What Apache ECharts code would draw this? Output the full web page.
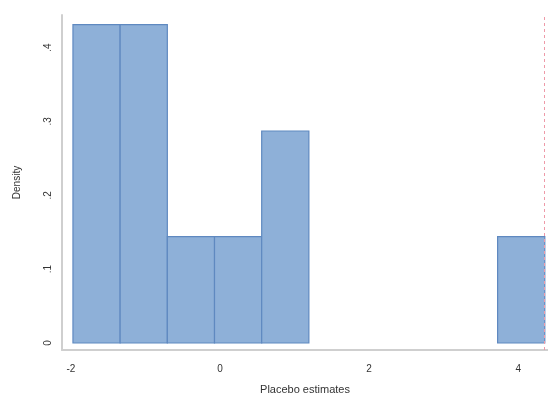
<!DOCTYPE html>
<html>
<head>
<meta charset="utf-8">
<script src="https://cdn.jsdelivr.net/npm/echarts@6/dist/echarts.min.js"></script>
<style>
  html, body { margin: 0; padding: 0; background: #fff; }
  #chart { width: 548px; height: 403px; }
</style>
</head>
<body>
<div id="chart"></div>
<script>
// histogram bins (left edge, right edge) and densities
const binLeft  = [-1.973, -1.340, -0.707, -0.074, 0.559, 1.192, 1.825, 2.458, 3.091, 3.724];
const binRight = [-1.340, -0.707, -0.074, 0.559, 1.192, 1.825, 2.458, 3.091, 3.724, 4.357];
const density  = [0.431, 0.431, 0.144, 0.144, 0.287, 0, 0, 0, 0, 0.144];
const xTicks = [-2, 0, 2, 4];
const yTicks = [0, 0.1, 0.2, 0.3, 0.4];
const trueEstimate = 4.35;

const chart = echarts.init(document.getElementById('chart'));

const bars = binLeft.map((l, i) => [l, binRight[i], density[i]]);

chart.setOption({
  animation: false,
  backgroundColor: '#ffffff',
  textStyle: { fontFamily: 'Liberation Sans, Arial, sans-serif' },
  grid: { left: 62, right: 0, top: 15, bottom: 53 },
  xAxis: {
    type: 'value',
    min: -2.12,
    max: 4.40,
    name: 'Placebo estimates',
    nameLocation: 'middle',
    nameGap: 34,
    nameTextStyle: { fontSize: 11, color: '#333' },
    axisLine: { show: true, onZero: false, lineStyle: { color: '#cfcfcf', width: 2 } },
    axisTick: { show: false },
    splitLine: { show: false },
    axisLabel: {
      customValues: xTicks,
      fontSize: 10, color: '#333', margin: 14
    }
  },
  yAxis: {
    type: 'value',
    min: -0.0095,
    max: 0.444,
    name: 'Density',
    nameLocation: 'middle',
    nameGap: 40,
    nameTextStyle: { fontSize: 10, color: '#333' },
    axisLine: { show: true, onZero: false, lineStyle: { color: '#cfcfcf', width: 2 } },
    axisTick: { show: false },
    splitLine: { show: false },
    axisLabel: {
      customValues: yTicks,
      rotate: 90,
      fontSize: 10, color: '#333', margin: 9,
      formatter: v => v === 0 ? '0' : String(+v.toFixed(1)).replace(/^0/, '')
    }
  },
  series: [{
    type: 'custom',
    data: bars,
    renderItem: function (params, api) {
      const h = api.value(2);
      if (!h) return null;
      const p0 = api.coord([api.value(0), h]);
      const p1 = api.coord([api.value(1), 0]);
      return {
        type: 'rect',
        shape: { x: p0[0], y: p0[1], width: p1[0] - p0[0], height: p1[1] - p0[1] },
        style: { fill: '#8eb0d8', stroke: '#5f89c0', lineWidth: 1.2 }
      };
    },
    encode: { x: [0, 1], y: 2 },
    markLine: {
      silent: true,
      symbol: 'none',
      label: { show: false },
      lineStyle: { color: '#ee9aa8', type: [3, 3], width: 1 },
      data: [{ xAxis: trueEstimate }]
    }
  }]
});
</script>
</body>
</html>
